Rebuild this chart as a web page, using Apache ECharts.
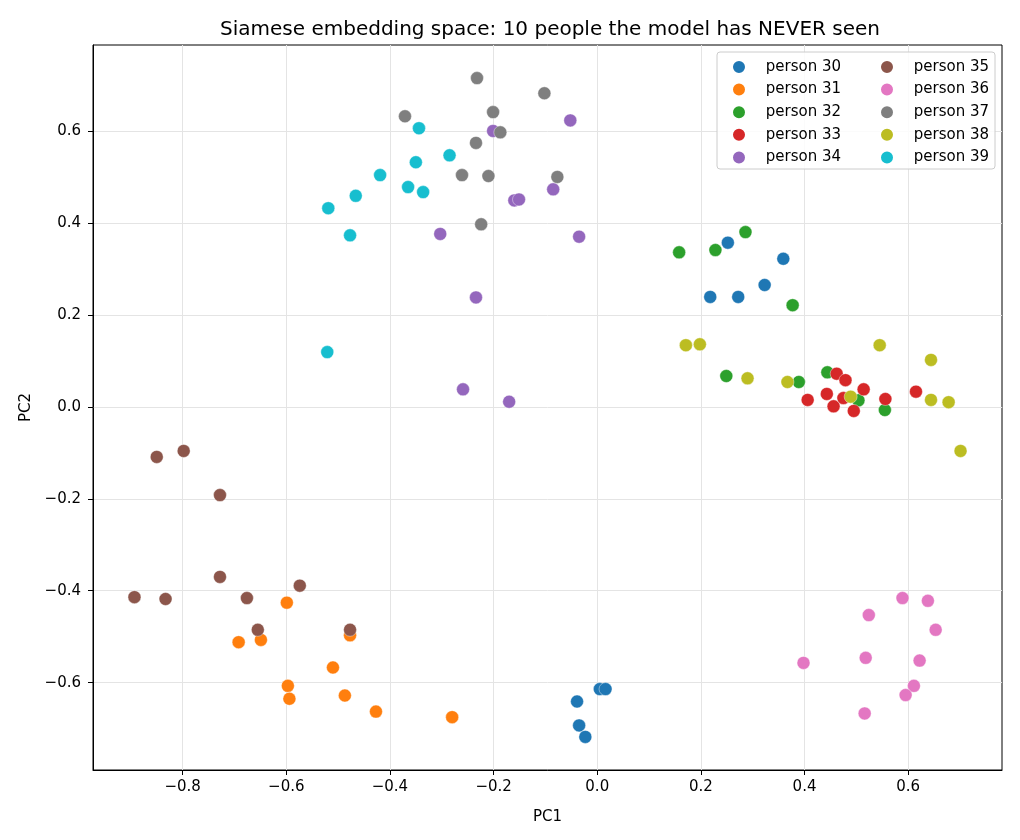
<!DOCTYPE html>
<html>
<head>
<meta charset="utf-8">
<title>Siamese embedding space</title>
<script src="https://cdn.jsdelivr.net/npm/echarts@6/dist/echarts.min.js"></script>
<style>
html, body { margin: 0; padding: 0; background: #fff; }
#main { width: 1020px; height: 840px; }
</style>
</head>
<body>
<div id="main"></div>
<script>
// people and their (PC1, PC2) points
const people = ['person 30', 'person 31', 'person 32', 'person 33', 'person 34',
                'person 35', 'person 36', 'person 37', 'person 38', 'person 39'];
const colors = ['#1f77b4', '#ff7f0e', '#2ca02c', '#d62728', '#9467bd',
                '#8c564b', '#e377c2', '#7f7f7f', '#bcbd22', '#17becf'];

const p30 = [[0.252,0.357],[0.359,0.322],[0.323,0.265],[0.218,0.239],[0.272,0.239],
             [-0.039,-0.641],[0.005,-0.614],[0.016,-0.614],[-0.035,-0.693],[-0.023,-0.718]];
const p31 = [[-0.599,-0.426],[-0.692,-0.512],[-0.649,-0.507],[-0.477,-0.497],[-0.510,-0.567],
             [-0.597,-0.607],[-0.594,-0.635],[-0.487,-0.628],[-0.427,-0.663],[-0.280,-0.675]];
const p32 = [[0.158,0.336],[0.228,0.341],[0.286,0.380],[0.377,0.221],[0.249,0.067],
             [0.389,0.054],[0.444,0.075],[0.504,0.014],[0.555,-0.007]];
const p33 = [[0.462,0.072],[0.479,0.058],[0.406,0.015],[0.443,0.028],[0.456,0.001],
             [0.475,0.019],[0.495,-0.009],[0.514,0.038],[0.556,0.017],[0.615,0.033]];
const p34 = [[-0.201,0.600],[-0.052,0.623],[-0.085,0.473],[-0.160,0.449],[-0.151,0.451],
             [-0.303,0.376],[-0.035,0.370],[-0.234,0.238],[-0.259,0.038],[-0.170,0.011]];
const p35 = [[-0.850,-0.109],[-0.798,-0.096],[-0.728,-0.192],[-0.728,-0.370],[-0.893,-0.414],
             [-0.833,-0.418],[-0.676,-0.416],[-0.574,-0.389],[-0.655,-0.485],[-0.477,-0.485]];
const p36 = [[0.589,-0.416],[0.638,-0.422],[0.524,-0.453],[0.653,-0.485],[0.518,-0.546],
             [0.622,-0.552],[0.398,-0.557],[0.611,-0.607],[0.595,-0.627],[0.516,-0.667]];
const p37 = [[-0.232,0.715],[-0.102,0.682],[-0.371,0.632],[-0.201,0.641],[-0.187,0.597],
             [-0.234,0.574],[-0.261,0.504],[-0.210,0.502],[-0.077,0.500],[-0.224,0.397]];
const p38 = [[0.171,0.134],[0.198,0.136],[0.290,0.062],[0.367,0.054],[0.489,0.022],
             [0.545,0.134],[0.644,0.102],[0.644,0.015],[0.678,0.010],[0.701,-0.096]];
const p39 = [[-0.344,0.606],[-0.285,0.547],[-0.350,0.532],[-0.419,0.504],[-0.365,0.478],
             [-0.336,0.467],[-0.466,0.459],[-0.519,0.432],[-0.477,0.373],[-0.521,0.119]];
const pointSets = [p30, p31, p32, p33, p34, p35, p36, p37, p38, p39];

// axis ticks and limits
const xTicks = [-0.8, -0.6, -0.4, -0.2, 0.0, 0.2, 0.4, 0.6];
const yTicks = [-0.6, -0.4, -0.2, 0.0, 0.2, 0.4, 0.6];
const xRange = [-0.973, 0.781];
const yRange = [-0.790, 0.787];

const FONT = 'DejaVu Sans';
const fmt = v => v.toFixed(1).replace('-', '\u2212');

const chart = echarts.init(document.getElementById('main'), null, { renderer: 'canvas' });

const axisCommon = {
  type: 'value',
  nameLocation: 'middle',
  nameTextStyle: { color: '#000', fontFamily: FONT, fontSize: 15 },
  axisLine: { show: true, onZero: false, lineStyle: { color: '#000', width: 1 } },
  axisTick: { show: true, inside: false, length: 5, lineStyle: { color: '#000', width: 1 } },
  axisLabel: { color: '#000', fontFamily: FONT, fontSize: 15, margin: 10, formatter: fmt },
  splitLine: { show: true, lineStyle: { color: '#e4e4e4', width: 1 } }
};

const option = {
  animation: false,
  backgroundColor: '#fff',
  title: {
    text: 'Siamese embedding space: 10 people the model has NEVER seen',
    left: 545,
    top: 15,
    textAlign: 'center',
    textStyle: { color: '#000', fontFamily: FONT, fontSize: 20, fontWeight: 'normal' }
  },
  grid: {
    left: 93, right: 18, top: 45, bottom: 70,
    show: true, borderColor: '#000', borderWidth: 1, backgroundColor: 'transparent'
  },
  xAxis: Object.assign({}, axisCommon, {
    name: 'PC1', nameGap: 40,
    min: xRange[0], max: xRange[1],
    axisTick: Object.assign({}, axisCommon.axisTick, { customValues: xTicks }),
    axisLabel: Object.assign({}, axisCommon.axisLabel, { customValues: xTicks })
  }),
  yAxis: Object.assign({}, axisCommon, {
    name: 'PC2', nameGap: 58,
    min: yRange[0], max: yRange[1],
    axisTick: Object.assign({}, axisCommon.axisTick, { customValues: yTicks }),
    axisLabel: Object.assign({}, axisCommon.axisLabel, { customValues: yTicks, margin: 12 })
  }),
  legend: {
    data: people,
    orient: 'vertical',
    left: 731, top: 59, height: 112,
    padding: 0,
    z: 10,
    icon: 'circle',
    itemWidth: 43.6, itemHeight: 14,
    itemGap: 6.6,
    textStyle: { color: '#000', fontFamily: FONT, fontSize: 15, width: 106.6, lineHeight: 14 }
  },
  graphic: {
    elements: [{
      type: 'rect', z: 3, silent: true,
      shape: { x: 717, y: 52, width: 278, height: 117, r: 3 },
      style: { fill: 'rgba(255,255,255,0.85)', stroke: '#cccccc', lineWidth: 1 }
    }]
  },
  series: people.map((name, i) => ({
    name: name,
    type: 'scatter',
    data: pointSets[i],
    symbol: 'circle',
    symbolSize: 13,
    z: 2 + i * 0.01,
    itemStyle: { color: colors[i], opacity: 1, borderColor: '#fff', borderWidth: 0.4 }
  }))
};

chart.setOption(option);
</script>
</body>
</html>
